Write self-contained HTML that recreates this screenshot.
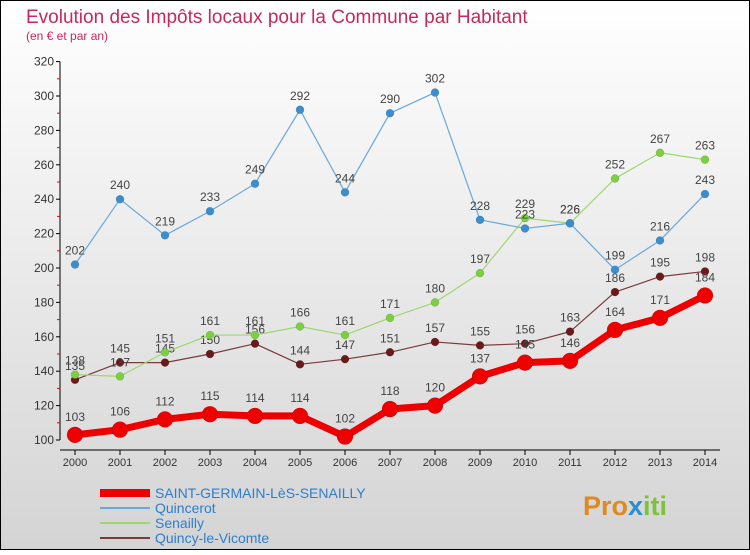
<!DOCTYPE html>
<html><head><meta charset="utf-8"><style>
body{margin:0;width:750px;height:550px;overflow:hidden;font-family:"Liberation Sans",sans-serif}
</style></head><body>
<svg width="750" height="550" viewBox="0 0 750 550">
<defs><linearGradient id="bg" x1="0" y1="0" x2="0" y2="1"><stop offset="0" stop-color="#ffffff"/><stop offset="1" stop-color="#d4d4d4"/></linearGradient></defs>
<rect x="0.5" y="0.5" width="749" height="549" fill="url(#bg)" stroke="#000"/>
<text x="26" y="23" font-size="19" fill="#c8285a">Evolution des Impôts locaux pour la Commune par Habitant</text>
<text x="26" y="40" font-size="12" fill="#c8285a">(en € et par an)</text>
<g id="axes"></g>
<g id="series"></g>
<g id="legend"></g>
<text x="583" y="515" font-size="27" font-weight="bold" fill="#e08a1e">Pro<tspan fill="#2a8fd0">x</tspan><tspan fill="#7cc23a">iti</tspan></text>
</svg>
<script>
const years=[2000,2001,2002,2003,2004,2005,2006,2007,2008,2009,2010,2011,2012,2013,2014];
const saintGermain=[103,106,112,115,114,114,102,118,120,137,145,146,164,171,184];
const quincerot=[202,240,219,233,249,292,244,290,302,228,223,226,199,216,243];
const senailly=[138,137,151,161,161,166,161,171,180,197,229,226,252,267,263];
const quincy=[135,145,145,150,156,144,147,151,157,155,156,163,186,195,198];
const yTicks=[100,120,140,160,180,200,220,240,260,280,300,320];
const NS="http://www.w3.org/2000/svg";
function X(i){return 75+i*45;}
function Y(v){return 440-(v-100)*1.72;}
function mk(tag,attrs,parent){const e=document.createElementNS(NS,tag);for(const k in attrs)e.setAttribute(k,attrs[k]);parent.appendChild(e);return e;}
const axes=document.getElementById('axes');
const yAxis=mk('line',{x1:60,y1:Y(320),x2:60,y2:Y(100),stroke:'#000'},axes);


yTicks.forEach(t=>{
  mk('line',{x1:56,x2:60,y1:Y(t),y2:Y(t),stroke:'#000'},axes);
  if(t<320) mk('line',{x1:57,x2:60,y1:Y(t+10),y2:Y(t+10),stroke:'#e00'},axes);
  const tx=mk('text',{x:54,y:Y(t)+4,'font-size':12,'text-anchor':'end',fill:'#333'},axes);
  tx.textContent=t;
  
  
});
const xAxis=mk('line',{x1:60,y1:450,x2:720,y2:450,stroke:'#000'},axes);


years.forEach((yr,i)=>{
  mk('line',{x1:X(i),x2:X(i),y1:450,y2:455,stroke:'#000'},axes);
  const tx=mk('text',{x:X(i),y:466,'font-size':11,'text-anchor':'middle',fill:'#333'},axes);
  tx.textContent=yr;
  
  
});
const ser=document.getElementById('series');
function draw(vals,color,dot,lw,r,name){
  const g=mk('g',{},ser);
  
  
  mk('polyline',{points:vals.map((v,i)=>X(i)+','+Y(v)).join(' '),fill:'none',stroke:color,'stroke-width':lw,'stroke-linejoin':'round'},g);
  vals.forEach((v,i)=>{
    const c=mk('circle',{cx:X(i),cy:Y(v),r:r,fill:dot,stroke:'#0003','stroke-width':0.5},g);
    
    
    const t=mk('text',{x:X(i),y:Y(v)-(r+6),'font-size':12,'text-anchor':'middle',fill:'#444'},g);
    t.textContent=v;
    
    
  });
}
draw(quincy,'#7a3a3a','#6b1a1a',1.2,4,'series-quincy');
draw(senailly,'#9cd870','#7cd040',1.2,4,'series-senailly');
draw(quincerot,'#6aa8d8','#3a8ed0',1.2,4,'series-quincerot');
draw(saintGermain,'#ee0000','#ee0000',7,8,'series-saint-germain');
const lg=document.getElementById('legend');
const items=[['SAINT-GERMAIN-LèS-SENAILLY','#ee0000',8],['Quincerot','#6aa8d8',2],['Senailly','#9cd870',2],['Quincy-le-Vicomte','#7a3a3a',2]];
items.forEach((it,i)=>{
  const y=493+i*15;
  const g=mk('g',{},lg);
  
  
  mk('line',{x1:100,x2:150,y1:y,y2:y,stroke:it[1],'stroke-width':it[2]},g);
  const t=mk('text',{x:155,y:y+5,'font-size':14,fill:'#2a7fd0'},g);
  t.textContent=it[0];
});
</script>
</body></html>
